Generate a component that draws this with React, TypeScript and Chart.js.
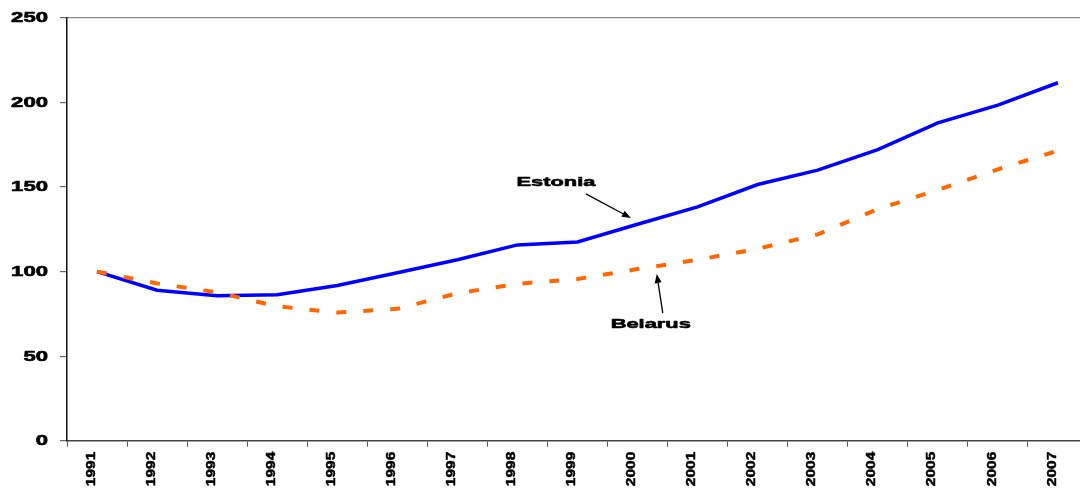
import React, { useEffect, useRef } from "react";
import { Chart, registerables } from "chart.js";

Chart.register(...registerables);

const years = ["1991","1992","1993","1994","1995","1996","1997","1998","1999","2000","2001","2002","2003","2004","2005","2006","2007"];
const estonia = [100, 89, 85.8, 86.3, 91.8, 99.3, 107, 115.8, 117.5, 128, 138.3, 151.5, 160, 172.2, 188, 198.5, 211.7];
const belarus = [100, 93, 87.7, 79.5, 75.8, 78, 87.2, 92.8, 95.6, 101.5, 107, 113.5, 122, 137, 148.3, 160.5, 171.5];
const yTicks = [0, 50, 100, 150, 200, 250];

// annotation anchors in data space: [categoryIndex, value]
const estoniaLabel = { text: "Estonia", at: [7.64, 152.7] };
const estoniaArrow = { from: [8.14, 146], to: [8.89, 131.7] };
const belarusLabel = { text: "Belarus", at: [9.22, 69.1] };
const belarusArrow = { from: [9.42, 75.5], to: [9.32, 98.6] };

const FONT = '"Liberation Sans", Arial, sans-serif';

function drawArrow(ctx: CanvasRenderingContext2D, x1: number, y1: number, x2: number, y2: number) {
  const ang = Math.atan2(y2 - y1, x2 - x1);
  const headLen = 9;
  const headW = 3.5;
  const bx = x2 - headLen * Math.cos(ang);
  const by = y2 - headLen * Math.sin(ang);
  ctx.save();
  ctx.strokeStyle = "#000";
  ctx.fillStyle = "#000";
  ctx.lineWidth = 1.3;
  ctx.beginPath();
  ctx.moveTo(x1, y1);
  ctx.lineTo(bx, by);
  ctx.stroke();
  ctx.beginPath();
  ctx.moveTo(x2, y2);
  ctx.lineTo(bx + headW * Math.sin(ang), by - headW * Math.cos(ang));
  ctx.lineTo(bx - headW * Math.sin(ang), by + headW * Math.cos(ang));
  ctx.closePath();
  ctx.fill();
  ctx.restore();
}

function heavyText(ctx: CanvasRenderingContext2D, text: string) {
  ctx.fillStyle = "#000";
  ctx.strokeStyle = "#000";
  ctx.lineWidth = 0.6;
  ctx.lineJoin = "round";
  ctx.fillText(text, 0, 0);
  ctx.strokeText(text, 0, 0);
}

const overlayPlugin = {
  id: "overlay",
  afterDraw(chart: any) {
    const ctx: CanvasRenderingContext2D = chart.ctx;
    const xs = chart.scales.x;
    const ys = chart.scales.y;
    // stretched y tick labels
    for (const t of ys.ticks) {
      const y = ys.getPixelForValue(t.value);
      ctx.save();
      ctx.translate(xs.left - 19, y + 0.5);
      ctx.scale(1.58, 1);
      ctx.font = `bold 14px ${FONT}`;
      ctx.textAlign = "right";
      ctx.textBaseline = "middle";
      heavyText(ctx, String(t.value));
      ctx.restore();
    }
    // rotated x tick labels
    xs.ticks.forEach((t: any, i: number) => {
      const x = xs.getPixelForTick(i) - 6;
      ctx.save();
      ctx.translate(x, xs.top + 11);
      ctx.rotate(-Math.PI / 2);
      ctx.scale(1, 0.85);
      ctx.font = `bold 15.5px ${FONT}`;
      ctx.textAlign = "right";
      ctx.textBaseline = "middle";
      heavyText(ctx, String(years[i]));
      ctx.restore();
    });
    const px = (p: number[]) => [xs.getPixelForValue(p[0]), ys.getPixelForValue(p[1])];
    for (const lab of [estoniaLabel, belarusLabel]) {
      const [x, y] = px(lab.at);
      ctx.save();
      ctx.translate(x, y);
      ctx.scale(1.62, 1);
      ctx.font = `bold 13.5px ${FONT}`;
      ctx.textAlign = "center";
      ctx.textBaseline = "middle";
      heavyText(ctx, lab.text);
      ctx.restore();
    }
    for (const a of [estoniaArrow, belarusArrow]) {
      const [x1, y1] = px(a.from);
      const [x2, y2] = px(a.to);
      drawArrow(ctx, x1, y1, x2, y2);
    }
  },
};

export default function App() {
  const ref = useRef<HTMLCanvasElement | null>(null);
  useEffect(() => {
    if (!ref.current) return;
    const chart = new Chart(ref.current, {
      type: "line",
      data: {
        labels: years,
        datasets: [
          {
            label: "Estonia",
            data: estonia,
            borderColor: "#0000FF",
            borderWidth: 3.5,
            pointRadius: 0,
            tension: 0,
            order: 2,
          },
          {
            label: "Belarus",
            data: belarus,
            borderColor: "#FF6600",
            borderWidth: 4,
            borderDash: [10, 17],
            borderCapStyle: "butt",
            pointRadius: 0,
            tension: 0,
            order: 1,
          },
        ],
      },
      options: {
        responsive: false,
        animation: false,
        layout: { padding: { top: 18, right: 8, left: 0, bottom: 0 } },
        plugins: { legend: { display: false }, tooltip: { enabled: false } },
        scales: {
          x: {
            type: "category",
            offset: true,
            grid: {
              offset: true,
              color: "transparent",
              tickColor: "#555",
              tickLength: 6,
              lineWidth: 1,
            },
            border: { display: true, color: "#444", width: 1.5 },
            ticks: { autoSkip: false, display: false },
            afterFit: (s: any) => {
              s.height = 47.3;
            },
          },
          y: {
            min: 0,
            max: 250,
            afterBuildTicks: (s: any) => {
              s.ticks = yTicks.map((v) => ({ value: v }));
            },
            grid: {
              color: (c: any) => (c.tick && c.tick.value === 250 ? "#888" : "transparent"),
              tickColor: "#666",
              tickLength: 7,
              lineWidth: 1.2,
            },
            border: { display: true, color: "#111", width: 1.5 },
            ticks: { display: false },
            afterFit: (s: any) => {
              s.width = 67;
            },
          },
        },
      },
      plugins: [overlayPlugin],
    } as any);
    return () => chart.destroy();
  }, []);
  return (
    <div
      style={{
        position: "fixed",
        left: 0,
        top: 0,
        width: 1080,
        height: 488,
        overflow: "hidden",
        background: "#fff",
      }}
    >
      <canvas ref={ref} width={1096} height={488} style={{ display: "block", width: 1096, height: 488 }} />
    </div>
  );
}
